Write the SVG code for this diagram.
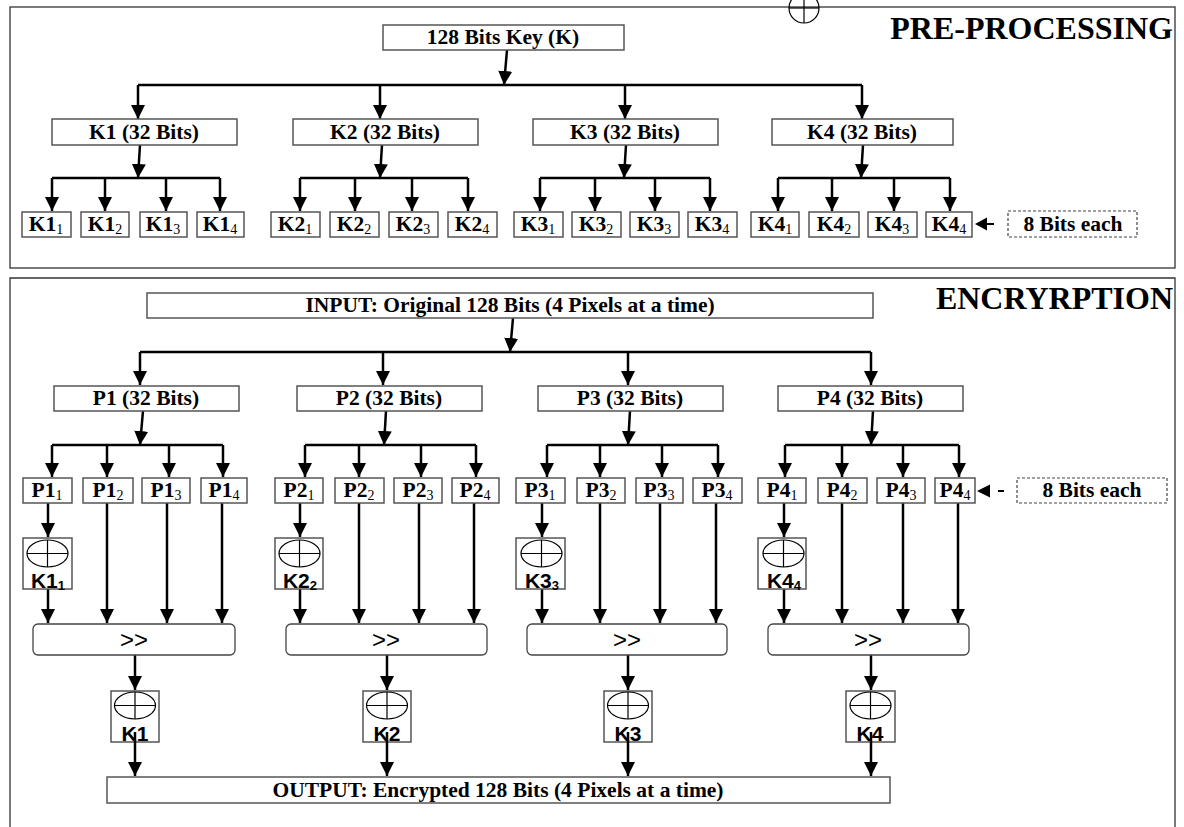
<svg xmlns="http://www.w3.org/2000/svg" width="1184" height="827" viewBox="0 0 1184 827">
<style>
.frame{fill:none;stroke:#333;stroke-width:1.3}
.box{fill:#fff;stroke:#555;stroke-width:1.5}
.rbox{fill:#fff;stroke:#444;stroke-width:1.3}
.dbox{fill:#fff;stroke:#444;stroke-width:1.2;stroke-dasharray:3 2}
.lbl{font-family:"Liberation Serif","Times New Roman",serif;font-weight:bold;font-size:21.5px;text-anchor:middle;fill:#000}
.sub{font-size:14px;font-weight:normal}
.title{font-family:"Liberation Serif","Times New Roman",serif;font-weight:bold;font-size:32px;text-anchor:end;fill:#000}
.sans{font-family:"Liberation Sans",Arial,sans-serif;text-anchor:middle;fill:#000}
.xl{font-size:21px;font-weight:bold}
.xsub{font-size:13px;font-weight:bold}
.op{font-size:24px}
.xor{fill:none;stroke:#000;stroke-width:1.2}
.arr{stroke:#000;stroke-width:2.5;fill:none;marker-end:url(#ah)}
.ln{stroke:#000;stroke-width:2.5;fill:none}
.thin{stroke:#000;stroke-width:2;fill:none}
</style>
<defs>
<marker id="ah" markerUnits="userSpaceOnUse" viewBox="0 0 14 14" markerWidth="14" markerHeight="14" refX="14" refY="7" orient="auto">
<path d="M0,0 L14,7 L0,14 z" fill="#000"/>
</marker>
</defs>
<rect width="1184" height="827" fill="#fff"/>

<!-- frames -->
<g id="frame-pre">
<rect class="frame" x="10" y="7" width="1165" height="261"/>
<text class="title" x="1173" y="39">PRE-PROCESSING</text>
<g id="stray-xor">
<circle class="xor" cx="804" cy="8" r="15"/>
<line class="xor" x1="804" y1="-7" x2="804" y2="23"/>
<line class="xor" x1="789" y1="8" x2="819" y2="8"/>
</g>
</g>
<g id="frame-enc">
<path class="frame" d="M10,827 V278 H1175 V827"/>
<text class="title" x="1173" y="309">ENCRYRPTION</text>
</g>

<!-- connectors -->
<g id="connectors">
<line class="arr" x1="507" y1="50" x2="504" y2="85"/>
<line class="ln" x1="138" y1="85" x2="862" y2="85"/>
<line class="arr" x1="138" y1="85" x2="138" y2="119"/>
<line class="arr" x1="380" y1="85" x2="380" y2="119"/>
<line class="arr" x1="625" y1="85" x2="625" y2="119"/>
<line class="arr" x1="862" y1="85" x2="862" y2="119"/>

<line class="arr" x1="140" y1="145" x2="138" y2="178"/>
<line class="ln" x1="52" y1="178" x2="220" y2="178"/>
<line class="arr" x1="52" y1="178" x2="52" y2="211"/>
<line class="arr" x1="105" y1="178" x2="105" y2="211"/>
<line class="arr" x1="166" y1="178" x2="166" y2="211"/>
<line class="arr" x1="220" y1="178" x2="220" y2="211"/>

<line class="arr" x1="382" y1="145" x2="380" y2="178"/>
<line class="ln" x1="300" y1="178" x2="468" y2="178"/>
<line class="arr" x1="300" y1="178" x2="300" y2="211"/>
<line class="arr" x1="355" y1="178" x2="355" y2="211"/>
<line class="arr" x1="412" y1="178" x2="412" y2="211"/>
<line class="arr" x1="468" y1="178" x2="468" y2="211"/>

<line class="arr" x1="626" y1="145" x2="624" y2="178"/>
<line class="ln" x1="540" y1="178" x2="710" y2="178"/>
<line class="arr" x1="540" y1="178" x2="540" y2="211"/>
<line class="arr" x1="595" y1="178" x2="595" y2="211"/>
<line class="arr" x1="655" y1="178" x2="655" y2="211"/>
<line class="arr" x1="710" y1="178" x2="710" y2="211"/>

<line class="arr" x1="863" y1="145" x2="861" y2="178"/>
<line class="ln" x1="778" y1="178" x2="950" y2="178"/>
<line class="arr" x1="778" y1="178" x2="778" y2="211"/>
<line class="arr" x1="832" y1="178" x2="832" y2="211"/>
<line class="arr" x1="894" y1="178" x2="894" y2="211"/>
<line class="arr" x1="950" y1="178" x2="950" y2="211"/>

<line class="thin" x1="987" y1="224" x2="994" y2="224"/>
<path d="M975,224 L987,217.5 L987,230.5 z" fill="#000"/>

<line class="arr" x1="513" y1="318" x2="510" y2="352"/>
<line class="ln" x1="140" y1="352" x2="871" y2="352"/>
<line class="arr" x1="140" y1="352" x2="140" y2="385"/>
<line class="arr" x1="383" y1="352" x2="383" y2="385"/>
<line class="arr" x1="628" y1="352" x2="628" y2="385"/>
<line class="arr" x1="871" y1="352" x2="871" y2="385"/>

<line class="arr" x1="143" y1="411" x2="140" y2="445"/>
<line class="ln" x1="52" y1="445" x2="223" y2="445"/>
<line class="arr" x1="52" y1="445" x2="52" y2="477"/>
<line class="arr" x1="107" y1="445" x2="107" y2="477"/>
<line class="arr" x1="169" y1="445" x2="169" y2="477"/>
<line class="arr" x1="223" y1="445" x2="223" y2="477"/>

<line class="arr" x1="386" y1="411" x2="384" y2="445"/>
<line class="ln" x1="305" y1="445" x2="476" y2="445"/>
<line class="arr" x1="305" y1="445" x2="305" y2="477"/>
<line class="arr" x1="359" y1="445" x2="359" y2="477"/>
<line class="arr" x1="421" y1="445" x2="421" y2="477"/>
<line class="arr" x1="476" y1="445" x2="476" y2="477"/>

<line class="arr" x1="630" y1="411" x2="628" y2="445"/>
<line class="ln" x1="547" y1="445" x2="718" y2="445"/>
<line class="arr" x1="547" y1="445" x2="547" y2="477"/>
<line class="arr" x1="600" y1="445" x2="600" y2="477"/>
<line class="arr" x1="662" y1="445" x2="662" y2="477"/>
<line class="arr" x1="718" y1="445" x2="718" y2="477"/>

<line class="arr" x1="873" y1="411" x2="871" y2="445"/>
<line class="ln" x1="785" y1="445" x2="959" y2="445"/>
<line class="arr" x1="785" y1="445" x2="785" y2="477"/>
<line class="arr" x1="842" y1="445" x2="842" y2="477"/>
<line class="arr" x1="903" y1="445" x2="903" y2="477"/>
<line class="arr" x1="959" y1="445" x2="959" y2="477"/>

<line class="thin" x1="998" y1="491" x2="1004" y2="491"/>
<path d="M977,491 L990,484.5 L990,497.5 z" fill="#000"/>

<line class="arr" x1="48" y1="503" x2="48" y2="537"/>
<line class="arr" x1="300" y1="503" x2="300" y2="537"/>
<line class="arr" x1="542" y1="503" x2="542" y2="537"/>
<line class="arr" x1="784" y1="503" x2="784" y2="537"/>

<line class="arr" x1="48" y1="589" x2="48" y2="623"/>
<line class="arr" x1="107" y1="503" x2="107" y2="623"/>
<line class="arr" x1="167" y1="503" x2="167" y2="623"/>
<line class="arr" x1="222" y1="503" x2="222" y2="623"/>

<line class="arr" x1="300" y1="589" x2="300" y2="623"/>
<line class="arr" x1="359" y1="503" x2="359" y2="623"/>
<line class="arr" x1="419" y1="503" x2="419" y2="623"/>
<line class="arr" x1="474" y1="503" x2="474" y2="623"/>

<line class="arr" x1="542" y1="589" x2="542" y2="623"/>
<line class="arr" x1="600" y1="503" x2="600" y2="623"/>
<line class="arr" x1="660" y1="503" x2="660" y2="623"/>
<line class="arr" x1="716" y1="503" x2="716" y2="623"/>

<line class="arr" x1="784" y1="589" x2="784" y2="623"/>
<line class="arr" x1="842" y1="503" x2="842" y2="623"/>
<line class="arr" x1="903" y1="503" x2="903" y2="623"/>
<line class="arr" x1="958" y1="503" x2="958" y2="623"/>

<line class="arr" x1="135" y1="655" x2="135" y2="690"/>
<line class="arr" x1="387" y1="655" x2="387" y2="690"/>
<line class="arr" x1="628" y1="655" x2="628" y2="690"/>
<line class="arr" x1="871" y1="655" x2="871" y2="690"/>
</g>

<!-- pre-processing nodes -->
<g id="key"><rect class="box" x="383" y="25" width="241" height="25"/><text class="lbl" x="503" y="44">128 Bits Key (K)</text></g>
<g id="k1"><rect class="box" x="52" y="119" width="185" height="26"/><text class="lbl" x="144" y="139">K1 (32 Bits)</text></g>
<g id="k2"><rect class="box" x="293" y="119" width="185" height="26"/><text class="lbl" x="385" y="139">K2 (32 Bits)</text></g>
<g id="k3"><rect class="box" x="533" y="119" width="185" height="26"/><text class="lbl" x="625" y="139">K3 (32 Bits)</text></g>
<g id="k4"><rect class="box" x="772" y="119" width="181" height="26"/><text class="lbl" x="862" y="139">K4 (32 Bits)</text></g>

<g id="k1-1"><rect class="box" x="22" y="212" width="49" height="25"/><text class="lbl" x="46" y="231">K1<tspan class="sub" dy="3">1</tspan></text></g>
<g id="k1-2"><rect class="box" x="81" y="212" width="48" height="25"/><text class="lbl" x="105" y="231">K1<tspan class="sub" dy="3">2</tspan></text></g>
<g id="k1-3"><rect class="box" x="140" y="212" width="47" height="25"/><text class="lbl" x="163" y="231">K1<tspan class="sub" dy="3">3</tspan></text></g>
<g id="k1-4"><rect class="box" x="197" y="212" width="47" height="25"/><text class="lbl" x="220" y="231">K1<tspan class="sub" dy="3">4</tspan></text></g>

<g id="k2-1"><rect class="box" x="271" y="212" width="49" height="25"/><text class="lbl" x="295" y="231">K2<tspan class="sub" dy="3">1</tspan></text></g>
<g id="k2-2"><rect class="box" x="330" y="212" width="49" height="25"/><text class="lbl" x="354" y="231">K2<tspan class="sub" dy="3">2</tspan></text></g>
<g id="k2-3"><rect class="box" x="389" y="212" width="49" height="25"/><text class="lbl" x="413" y="231">K2<tspan class="sub" dy="3">3</tspan></text></g>
<g id="k2-4"><rect class="box" x="448" y="212" width="49" height="25"/><text class="lbl" x="472" y="231">K2<tspan class="sub" dy="3">4</tspan></text></g>

<g id="k3-1"><rect class="box" x="514" y="212" width="49" height="25"/><text class="lbl" x="538" y="231">K3<tspan class="sub" dy="3">1</tspan></text></g>
<g id="k3-2"><rect class="box" x="572" y="212" width="49" height="25"/><text class="lbl" x="596" y="231">K3<tspan class="sub" dy="3">2</tspan></text></g>
<g id="k3-3"><rect class="box" x="630" y="212" width="49" height="25"/><text class="lbl" x="654" y="231">K3<tspan class="sub" dy="3">3</tspan></text></g>
<g id="k3-4"><rect class="box" x="688" y="212" width="49" height="25"/><text class="lbl" x="712" y="231">K3<tspan class="sub" dy="3">4</tspan></text></g>

<g id="k4-1"><rect class="box" x="751" y="212" width="48" height="25"/><text class="lbl" x="775" y="231">K4<tspan class="sub" dy="3">1</tspan></text></g>
<g id="k4-2"><rect class="box" x="809" y="212" width="50" height="25"/><text class="lbl" x="834" y="231">K4<tspan class="sub" dy="3">2</tspan></text></g>
<g id="k4-3"><rect class="box" x="868" y="212" width="49" height="25"/><text class="lbl" x="892" y="231">K4<tspan class="sub" dy="3">3</tspan></text></g>
<g id="k4-4"><rect class="box" x="926" y="212" width="46" height="25"/><text class="lbl" x="949" y="231">K4<tspan class="sub" dy="3">4</tspan></text></g>

<g id="note-pre"><rect class="dbox" x="1008" y="211" width="129" height="26"/><text class="lbl" x="1073" y="231">8 Bits each</text></g>

<!-- encryption nodes -->
<g id="input"><rect class="box" x="147" y="293" width="726" height="25"/><text class="lbl" x="510" y="312">INPUT: Original 128 Bits (4 Pixels at a time)</text></g>
<g id="p1"><rect class="box" x="54" y="386" width="185" height="25"/><text class="lbl" x="146" y="405">P1 (32 Bits)</text></g>
<g id="p2"><rect class="box" x="297" y="386" width="185" height="25"/><text class="lbl" x="389" y="405">P2 (32 Bits)</text></g>
<g id="p3"><rect class="box" x="538" y="386" width="185" height="25"/><text class="lbl" x="630" y="405">P3 (32 Bits)</text></g>
<g id="p4"><rect class="box" x="778" y="386" width="185" height="25"/><text class="lbl" x="870" y="405">P4 (32 Bits)</text></g>

<g id="p1-1"><rect class="box" x="23" y="478" width="49" height="25"/><text class="lbl" x="47" y="497">P1<tspan class="sub" dy="3">1</tspan></text></g>
<g id="p1-2"><rect class="box" x="83" y="478" width="50" height="25"/><text class="lbl" x="108" y="497">P1<tspan class="sub" dy="3">2</tspan></text></g>
<g id="p1-3"><rect class="box" x="142" y="478" width="48" height="25"/><text class="lbl" x="166" y="497">P1<tspan class="sub" dy="3">3</tspan></text></g>
<g id="p1-4"><rect class="box" x="201" y="478" width="46" height="25"/><text class="lbl" x="224" y="497">P1<tspan class="sub" dy="3">4</tspan></text></g>

<g id="p2-1"><rect class="box" x="275" y="478" width="48" height="25"/><text class="lbl" x="299" y="497">P2<tspan class="sub" dy="3">1</tspan></text></g>
<g id="p2-2"><rect class="box" x="335" y="478" width="49" height="25"/><text class="lbl" x="359" y="497">P2<tspan class="sub" dy="3">2</tspan></text></g>
<g id="p2-3"><rect class="box" x="394" y="478" width="48" height="25"/><text class="lbl" x="418" y="497">P2<tspan class="sub" dy="3">3</tspan></text></g>
<g id="p2-4"><rect class="box" x="452" y="478" width="47" height="25"/><text class="lbl" x="475" y="497">P2<tspan class="sub" dy="3">4</tspan></text></g>

<g id="p3-1"><rect class="box" x="516" y="478" width="49" height="25"/><text class="lbl" x="540" y="497">P3<tspan class="sub" dy="3">1</tspan></text></g>
<g id="p3-2"><rect class="box" x="577" y="478" width="48" height="25"/><text class="lbl" x="601" y="497">P3<tspan class="sub" dy="3">2</tspan></text></g>
<g id="p3-3"><rect class="box" x="636" y="478" width="47" height="25"/><text class="lbl" x="659" y="497">P3<tspan class="sub" dy="3">3</tspan></text></g>
<g id="p3-4"><rect class="box" x="693" y="478" width="49" height="25"/><text class="lbl" x="717" y="497">P3<tspan class="sub" dy="3">4</tspan></text></g>

<g id="p4-1"><rect class="box" x="758" y="478" width="48" height="25"/><text class="lbl" x="782" y="497">P4<tspan class="sub" dy="3">1</tspan></text></g>
<g id="p4-2"><rect class="box" x="818" y="478" width="49" height="25"/><text class="lbl" x="842" y="497">P4<tspan class="sub" dy="3">2</tspan></text></g>
<g id="p4-3"><rect class="box" x="877" y="478" width="48" height="25"/><text class="lbl" x="901" y="497">P4<tspan class="sub" dy="3">3</tspan></text></g>
<g id="p4-4"><rect class="box" x="935" y="478" width="40" height="25"/><text class="lbl" x="955" y="497">P4<tspan class="sub" dy="3">4</tspan></text></g>

<g id="note-enc"><rect class="dbox" x="1017" y="478" width="150" height="25"/><text class="lbl" x="1092" y="497">8 Bits each</text></g>

<!-- XOR with sub-keys -->
<g id="xor-k1-1"><rect class="box" x="23" y="538" width="49" height="51"/><ellipse class="xor" cx="47.5" cy="553.5" rx="20.5" ry="13.5"/><line class="xor" x1="27" y1="553.5" x2="68" y2="553.5"/><line class="xor" x1="47.5" y1="540" x2="47.5" y2="567"/><text class="sans xl" x="48" y="588">K1<tspan class="xsub" dy="2">1</tspan></text></g>
<g id="xor-k2-2"><rect class="box" x="275" y="538" width="48" height="51"/><ellipse class="xor" cx="299.5" cy="553.5" rx="20.5" ry="13.5"/><line class="xor" x1="279" y1="553.5" x2="320" y2="553.5"/><line class="xor" x1="299.5" y1="540" x2="299.5" y2="567"/><text class="sans xl" x="300" y="588">K2<tspan class="xsub" dy="2">2</tspan></text></g>
<g id="xor-k3-3"><rect class="box" x="516" y="538" width="49" height="51"/><ellipse class="xor" cx="541.5" cy="553.5" rx="20.5" ry="13.5"/><line class="xor" x1="521" y1="553.5" x2="562" y2="553.5"/><line class="xor" x1="541.5" y1="540" x2="541.5" y2="567"/><text class="sans xl" x="542" y="588">K3<tspan class="xsub" dy="2">3</tspan></text></g>
<g id="xor-k4-4"><rect class="box" x="758" y="538" width="48" height="51"/><ellipse class="xor" cx="783.5" cy="553.5" rx="20.5" ry="13.5"/><line class="xor" x1="763" y1="553.5" x2="804" y2="553.5"/><line class="xor" x1="783.5" y1="540" x2="783.5" y2="567"/><text class="sans xl" x="784" y="588">K4<tspan class="xsub" dy="2">4</tspan></text></g>

<!-- shift boxes -->
<g id="shift1"><rect class="rbox" x="33" y="624" width="202" height="31" rx="5"/><text class="sans op" x="134" y="648">&gt;&gt;</text></g>
<g id="shift2"><rect class="rbox" x="286" y="624" width="201" height="31" rx="5"/><text class="sans op" x="386" y="648">&gt;&gt;</text></g>
<g id="shift3"><rect class="rbox" x="527" y="624" width="200" height="31" rx="5"/><text class="sans op" x="627" y="648">&gt;&gt;</text></g>
<g id="shift4"><rect class="rbox" x="768" y="624" width="201" height="31" rx="5"/><text class="sans op" x="868" y="648">&gt;&gt;</text></g>

<!-- XOR with keys -->
<g id="xor-k1"><rect class="box" x="111" y="691" width="48" height="51"/><ellipse class="xor" cx="135" cy="705.5" rx="20.5" ry="13.5"/><line class="xor" x1="114.5" y1="705.5" x2="155.5" y2="705.5"/><line class="xor" x1="135" y1="692" x2="135" y2="719"/><text class="sans xl" x="135" y="741">K1</text></g>
<g id="xor-k2"><rect class="box" x="363" y="691" width="48" height="51"/><ellipse class="xor" cx="387" cy="705.5" rx="20.5" ry="13.5"/><line class="xor" x1="366.5" y1="705.5" x2="407.5" y2="705.5"/><line class="xor" x1="387" y1="692" x2="387" y2="719"/><text class="sans xl" x="387" y="741">K2</text></g>
<g id="xor-k3"><rect class="box" x="604" y="691" width="48" height="51"/><ellipse class="xor" cx="628" cy="705.5" rx="20.5" ry="13.5"/><line class="xor" x1="607.5" y1="705.5" x2="648.5" y2="705.5"/><line class="xor" x1="628" y1="692" x2="628" y2="719"/><text class="sans xl" x="628" y="741">K3</text></g>
<g id="xor-k4"><rect class="box" x="846" y="691" width="49" height="51"/><ellipse class="xor" cx="870.5" cy="705.5" rx="20.5" ry="13.5"/><line class="xor" x1="850" y1="705.5" x2="891" y2="705.5"/><line class="xor" x1="870.5" y1="692" x2="870.5" y2="719"/><text class="sans xl" x="870" y="741">K4</text></g>

<g id="output"><rect class="box" x="107" y="777" width="783" height="26"/><text class="lbl" x="498" y="797">OUTPUT: Encrypted 128 Bits (4 Pixels at a time)</text></g>

<g id="connectors-out">
<line class="arr" x1="135" y1="732" x2="135" y2="776"/>
<line class="arr" x1="387" y1="732" x2="387" y2="776"/>
<line class="arr" x1="628" y1="732" x2="628" y2="776"/>
<line class="arr" x1="871" y1="732" x2="871" y2="776"/>
</g>
</svg>
